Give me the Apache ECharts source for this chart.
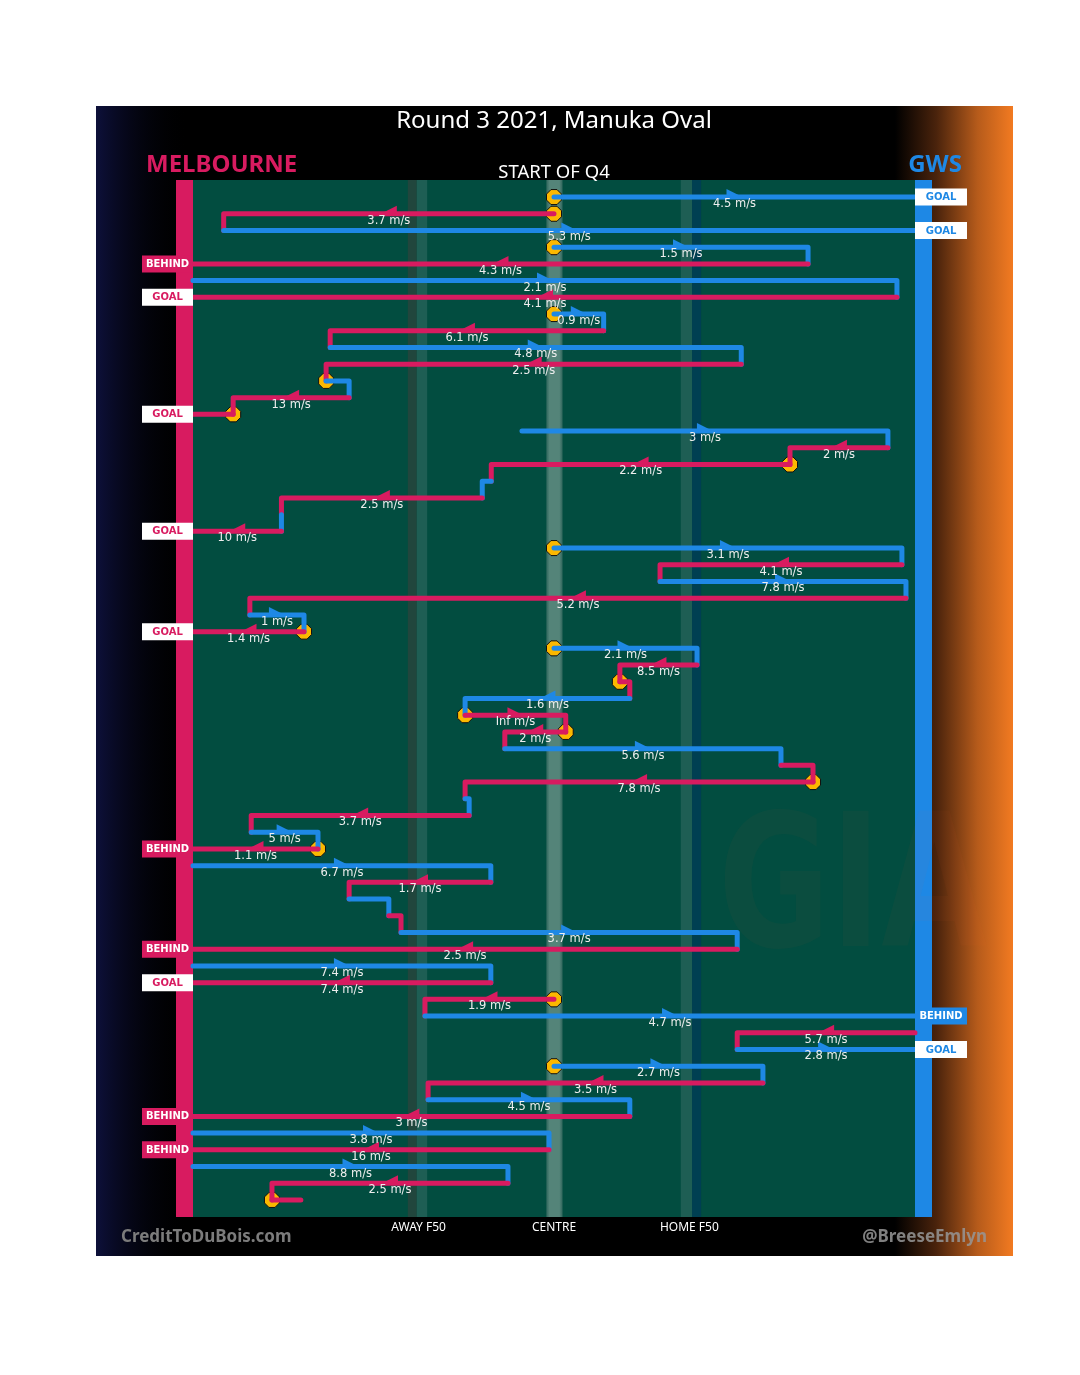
<!DOCTYPE html>
<html><head><meta charset="utf-8">
<script src="https://cdn.jsdelivr.net/npm/echarts@6/dist/echarts.min.js"></script>
<style>html,body{margin:0;padding:0;background:#fff}#c{width:1080px;height:1375px}</style>
</head><body><div id="c"></div>
<script>
// ---- DATA (x in metres from the left goal line, 0..160; one row per possession segment) ----
const team    = ['G','M','G','G','M','G','M','G','M','G','M','G','M','M','G','M','M','G','M','G','M','G','M','G','M','G','M','G','M','M','G','M','M','G','M','M','G','M','G','M','G','M','G','M','G','M','G','M','M','G','M','G','G','M','G','M','G','M','G','M','M'];
const fromX   = [80,80,6.8,80,136.3,0,156.0,80,91.0,30.4,121.5,29.5,34.6,8.9,72.9,154.0,132.3,66.1,64.1,19.6,19.6,80,157.1,103.5,158.0,12.6,24.6,80,111.7,94.6,96.8,60.3,82.6,69.1,130.3,137.4,60.3,61.2,12.9,27.7,0,66.0,34.6,43.4,46.1,120.6,0,66.0,80,51.4,160,120.6,80,126.3,52.1,96.8,0,78.9,0,69.8,17.5];
const toX     = [160,6.8,160,136.3,0,156.0,0,91.0,30.4,121.5,29.5,34.6,8.9,0,154.0,132.3,66.1,64.1,19.6,19.6,0,157.1,103.5,158.0,12.6,24.6,0,111.7,94.6,96.8,60.3,82.6,69.1,130.3,137.4,60.3,61.2,12.9,27.7,0,66.0,34.6,43.4,46.1,120.6,0,66.0,0,51.4,160,120.6,160,126.3,52.1,96.8,0,78.9,0,69.8,17.5,23.9];
const speed   = [4.5,3.7,5.3,1.5,4.3,2.1,4.1,0.9,6.1,4.8,2.5,null,13,null,3,2,2.2,null,2.5,null,10,3.1,4.1,7.8,5.2,1,1.4,2.1,8.5,null,1.6,Infinity,2,5.6,null,7.8,null,3.7,5,1.1,6.7,1.7,null,null,3.7,2.5,7.4,7.4,1.9,4.7,5.7,2.8,2.7,3.5,4.5,3,3.8,16,8.8,2.5,null];
const stoppage= [1,1,0,1,0,0,0,1,0,0,0,1,0,1,0,0,1,0,0,0,0,1,0,0,0,0,1,1,0,1,0,1,1,0,0,1,0,0,0,1,0,0,0,0,0,0,0,0,1,0,0,0,1,0,0,0,0,0,0,0,1];
const outcome = ['GOAL','','GOAL','','BEHIND','','GOAL','','','','','','','GOAL','','','','','','','GOAL','','','','','','GOAL','','','','','','','','','','','','','BEHIND','','','','','','BEHIND','','GOAL','','BEHIND','','GOAL','','','','BEHIND','','BEHIND','','',''];
const tickVals  = [50, 80, 110];
const tickNames = ['AWAY F50', 'CENTRE', 'HOME F50'];
const teamNames = ['MELBOURNE', 'GWS'];
const titleText = 'Round 3 2021, Manuka Oval';
const subText   = 'START OF Q4';

const PINK = '#d81b60', BLUE = '#1e88e5';
const chart = echarts.init(document.getElementById('c'));

function fmt(v){ return v === Infinity ? 'Inf' : String(v); }

function renderChain(params, api){
  const i = api.value(2);
  const a = api.coord([api.value(0), i]);
  const b = api.coord([api.value(1), i]);
  const col = team[i] === 'M' ? PINK : BLUE;
  const pts = [a, b];
  if (!outcome[i] && i < team.length - 1) pts.push(api.coord([api.value(1), i + 1]));
  const ch = [{type:'polyline', shape:{points:pts},
    style:{stroke:col, lineWidth:5, fill:null, lineCap:'round', lineJoin:'round'}}];
  if (speed[i] !== null){
    const mid = (a[0] + b[0]) / 2, y = a[1];
    const d = b[0] >= a[0] ? 1 : -1;
    ch.push({type:'polygon', shape:{points:[[mid-8*d, y-8],[mid-8*d, y],[mid+8*d, y]]}, style:{fill:col}});
    ch.push({type:'text', z2:10, style:{text: fmt(speed[i]) + ' m/s', x: mid, y: y + 7,
      align:'center', verticalAlign:'middle', fill:'#eeeeee', font:'11.5px "DejaVu Sans"'}});
  }
  return {type:'group', children: ch};
}

function renderTag(params, api){
  const i = api.value(1);
  const isM = team[i] === 'M';
  const p = api.coord([api.value(0), i]);
  const w = isM ? 51 : 52, h = 17;
  const x0 = isM ? p[0] - w : p[0];
  const goal = outcome[i] === 'GOAL';
  const col = isM ? PINK : BLUE;
  return {type:'group', children:[
    {type:'rect', shape:{x:x0, y:p[1]-h/2, width:w, height:h}, style:{fill: goal ? '#ffffff' : col}},
    {type:'text', style:{text: outcome[i], x: x0 + w/2, y: p[1] + 0.5, align:'center', verticalAlign:'middle',
      fill: goal ? col : '#ffffff', font:'bold 10px "DejaVu Sans"'}}
  ]};
}

const chainData = team.map((t, i) => [fromX[i], toX[i], i]);
const stopData = [];
stoppage.forEach((s, i) => { if (s) stopData.push([fromX[i], i]); });
const tagData = [];
outcome.forEach((o, i) => { if (o) tagData.push([team[i] === 'M' ? 0 : 160, i]); });

const option = {
  animation: false,
  backgroundColor: '#ffffff',
  grid: {left:193, right:165, top:180, bottom:158, show:true, backgroundColor:'#024d40', borderWidth:0},
  xAxis: {type:'value', min:0, max:160, interval:10,
    axisLine:{show:false}, axisTick:{show:false}, splitLine:{show:false},
    axisLabel:{color:'#ffffff', fontSize:12, fontFamily:'Noto Sans', margin:5,
      formatter: v => { const k = tickVals.indexOf(v); return k >= 0 ? tickNames[k] : ''; }}},
  yAxis: {type:'value', min:-1.02, max:61.02, inverse:true, show:false},
  graphic: [
    {type:'rect', z:-5, shape:{x:96, y:106, width:917, height:1150}, style:{fill:'#000'}},
    {type:'rect', z:-4, shape:{x:96, y:106, width:92, height:1150}, style:{fill:
      new echarts.graphic.LinearGradient(0,0,1,0,[{offset:0,color:'rgba(13,16,58,1)'},{offset:1,color:'rgba(0,0,0,0)'}])}},
    {type:'rect', z:-4, shape:{x:895, y:106, width:118, height:1150}, style:{fill:
      new echarts.graphic.LinearGradient(0,0,1,0,[{offset:0,color:'#000000'},{offset:0.35,color:'#4a230c'},{offset:0.7,color:'#b65b1b'},{offset:1,color:'#f27a21'}])}},
    {type:'rect', z:1, shape:{x:176, y:180, width:17, height:1037}, style:{fill:PINK}},
    {type:'rect', z:1, shape:{x:915, y:180, width:17, height:1037}, style:{fill:BLUE}},
    {type:'text', z:1, style:{text:'GIA', x:718, y:898, verticalAlign:'middle', fill:'rgba(255,110,50,0.04)', font:'bold 185px "DejaVu Sans"'}, scaleX:0.74, originX:718},
    {type:'text', z:1, style:{text:titleText, x:554, y:121, align:'center', verticalAlign:'middle', fill:'#ffffff', font:'24px "Noto Sans"'}},
    {type:'text', z:1, style:{text:teamNames[0], x:146, y:165, verticalAlign:'middle', fill:PINK, font:'bold 24px "Noto Sans"'}},
    {type:'text', z:1, style:{text:teamNames[1], x:962, y:165, align:'right', verticalAlign:'middle', fill:BLUE, font:'bold 24px "Noto Sans"'}},
    {type:'text', z:1, style:{text:subText, x:554, y:173, align:'center', verticalAlign:'middle', fill:'#ffffff', font:'18.5px "Noto Sans"'}},
    {type:'text', z:1, style:{text:'CreditToDuBois.com', x:121, y:1237, verticalAlign:'middle', fill:'#7c7c7c', font:'bold 17px "Noto Sans"'}},
    {type:'text', z:1, style:{text:'@BreeseEmlyn', x:987, y:1237, align:'right', verticalAlign:'middle', fill:'rgba(150,150,150,0.85)', font:'bold 17px "Noto Sans"'}}
  ],
  series: [
    {type:'line', z:1, data:[], silent:true,
      markArea:{silent:true, data:[
        [{xAxis:47.6, itemStyle:{color:'#21463d'}}, {xAxis:49.6}],
        [{xAxis:49.6, itemStyle:{color:'#1e5e54'}}, {xAxis:51.9}],
        [{xAxis:78.3, itemStyle:{color:new echarts.graphic.LinearGradient(0,0,1,0,[{offset:0,color:'#2f665c'},{offset:0.2,color:'#548479'},{offset:0.8,color:'#548479'},{offset:1,color:'#2f665c'}])}}, {xAxis:81.9}],
        [{xAxis:108.1, itemStyle:{color:'#1e5e54'}}, {xAxis:110.6}],
        [{xAxis:110.6, itemStyle:{color:'#003f52'}}, {xAxis:112.6}]
      ]}},
    {type:'scatter', z:2, data:stopData, symbol:'path://M3,0 L7,0 L10,3 L10,7 L7,10 L3,10 L0,7 L0,3 Z',
      symbolSize:15, itemStyle:{color:'#fbb800', borderColor:'#111', borderWidth:1, opacity:1}, silent:true},
    {type:'custom', z:3, data:chainData, renderItem:renderChain, encode:{x:[0,1], y:2}, silent:true},
    {type:'custom', z:5, data:tagData, renderItem:renderTag, encode:{x:0, y:1}, silent:true}
  ]
};
chart.setOption(option);
</script></body></html>
